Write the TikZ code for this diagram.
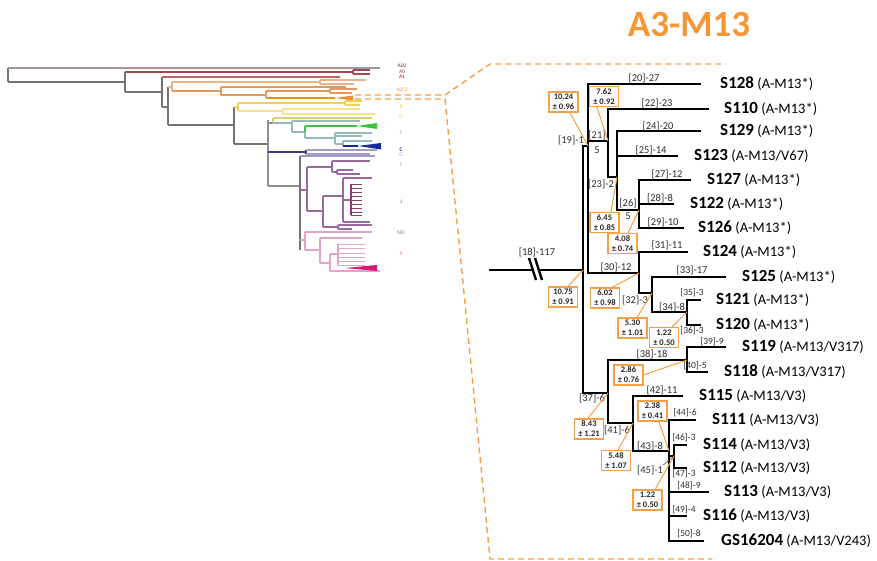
\documentclass[tikz,border=0pt]{standalone}
\usepackage{fontspec}
\setmainfont{Carlito}
\usetikzlibrary{calc}
\definecolor{org}{RGB}{245,160,68}
\definecolor{ttl}{RGB}{247,150,52}
\definecolor{lbl}{RGB}{45,45,45}
\definecolor{tgray}{RGB}{115,115,115}
\definecolor{c00}{RGB}{165,150,150}
\definecolor{cA0}{RGB}{160,70,85}
\definecolor{cA1}{RGB}{195,95,95}
\definecolor{co1}{RGB}{232,180,140}
\definecolor{co2}{RGB}{232,150,90}
\definecolor{co3}{RGB}{240,140,50}
\definecolor{cy1}{RGB}{240,210,90}
\definecolor{cy2}{RGB}{245,228,140}
\definecolor{cyg}{RGB}{215,210,110}
\definecolor{ctl}{RGB}{150,185,185}
\definecolor{cgr}{RGB}{60,195,60}
\definecolor{cnv}{RGB}{20,45,150}
\definecolor{cnv2}{RGB}{60,60,130}
\definecolor{cpg}{RGB}{165,155,195}
\definecolor{cpu}{RGB}{155,105,155}
\definecolor{cmg}{RGB}{140,60,115}
\definecolor{cpk}{RGB}{222,165,200}
\definecolor{cmag}{RGB}{215,25,115}
\begin{document}
\begin{tikzpicture}[x=1pt,y=-1pt,
  br/.style={line width=2.9pt, line join=miter, line cap=rect},
  leaf/.style={anchor=west, inner sep=0pt, font=\fontsize{14.5}{16}\selectfont},
  blab/.style={inner sep=0pt, text=lbl, font=\fontsize{10.5}{12}\selectfont},
  slab/.style={inner sep=0pt, text=lbl, font=\fontsize{9.5}{10}\selectfont},
  ebox/.style={draw=org, line width=1.2pt, fill=white, minimum width=29pt, minimum height=20pt,
    inner sep=0pt, align=center, text=black!85, font=\bfseries\fontsize{8.5}{10}\selectfont},
  conn/.style={draw=org, line width=1pt},
  dsh/.style={draw=org, line width=1.4pt, dash pattern=on 6pt off 4pt},
  lt/.style={line width=1.1pt},
  tl/.style={inner sep=0pt, font=\fontsize{5.5}{6}\selectfont}]
\useasboundingbox (0,0) rectangle (877,561);

% ---------- title ----------
\node[font=\bfseries\fontsize{37}{40}\selectfont, text=ttl] (title) at (689,24) {A3-M13};

% ---------- dashed zoom outline ----------
\draw[dsh] (355,95) -- (445,95) -- (490,64) -- (726,64);
\draw[dsh] (355,99) -- (445,99) -- (490,559) -- (712,559);

% ---------- left overview tree ----------
\begin{scope}[lt]
\draw[tgray] (8,68) -- (8,82);
\draw[c00] (8,68) -- (380,68);
\draw[tgray] (8,82) -- (125,82) (125,72) -- (125,92) (125,92) -- (162,92);
\draw[cA0] (125,72) -- (353,72) (353,70) -- (353,74) (353,70) -- (370,70) (353,74) -- (370,74);
\draw[tgray] (162,77) -- (162,107) (162,107) -- (168,107) (168,87) -- (168,125) (168,125) -- (234,125);
\draw[cA1] (162,77) -- (340,77);
\draw[co1] (168,87) -- (172,87) (172,82) -- (172,91) (172,82) -- (320,82) (320,80) -- (320,84) (320,80) -- (366,80) (320,84) -- (354,84);
\draw[co2] (172,91) -- (221,91) (221,87) -- (221,95) (221,87) -- (346,87) (221,95) -- (266,95)
  (266,91) -- (266,98) (266,91) -- (330,91) (330,89) -- (330,93) (330,89) -- (357,89) (330,93) -- (352,93);
\draw[co3] (266,98) -- (335,98);
\fill[co3] (335,98) -- (353,95.5) -- (353,100.5) -- cycle;
\draw[tgray] (234,107) -- (234,144) (234,144) -- (268,144);
\draw[cy1] (234,107) -- (238,107) (238,103) -- (238,111) (238,103) -- (345,103) (345,101) -- (345,105) (345,101) -- (362,101) (345,105) -- (360,105);
\draw[cy2] (238,111) -- (283,111) (283,109) -- (283,114) (283,109) -- (360,109) (283,114) -- (375,114);
\draw[tgray!80] (268,120) -- (268,186) (268,186) -- (300,186) (268,123) -- (273,123);
\draw[cyg] (273,118) -- (273,123) (273,118) -- (372,118);
\draw[ctl] (273,123) -- (292,123) (292,121) -- (292,132) (292,121) -- (360,121) (292,132) -- (305,132)
  (305,132) -- (305,138) (305,138) -- (335,138) (335,133) -- (335,144) (335,133) -- (372,133) (335,136) -- (362,136)
  (335,144) -- (343,144) (343,141) -- (343,146) (343,141) -- (372,141);
\draw[cgr] (305,126) -- (305,132) (305,126) -- (357,126);
\fill[cgr] (357,126) -- (377,123) -- (377,129) -- cycle;
\draw[cnv] (343,146) -- (358,146);
\fill[cnv] (358,146) -- (381,143) -- (381,149.5) -- cycle;
\draw[cnv2] (268,152) -- (306,152) (306,150) -- (306,154);
\draw[cpg] (306,150) -- (377,150) (306,154) -- (370,154);
\draw[tgray] (300,156) -- (300,250);
\draw[cpg] (300,156) -- (375,156);
\draw[cpu] (300,190) -- (307,190) (307,167) -- (307,211) (307,167) -- (332,167) (332,161) -- (332,172)
  (332,161) -- (370,161) (332,172) -- (337,172) (337,170) -- (337,174) (337,170) -- (353,170) (337,174) -- (360,174)
  (307,211) -- (323,211) (323,196) -- (323,227) (323,196) -- (343,196) (343,178) -- (343,222)
  (343,178) -- (372,178) (343,222) -- (370,222) (343,200) -- (351,200) (323,227) -- (338,227)
  (338,225) -- (338,229) (338,225) -- (372,225) (338,229) -- (352,229);
\draw[cmg] (351,184) -- (351,215);
\foreach \yy in {184,188,192,196,200,204,208,212,215} \draw[cmg, line width=0.8pt] (351,\yy) -- (362,\yy);
\draw[cpk] (300,240) -- (305,240) (305,232) -- (305,250) (305,232) -- (372,232) (305,250) -- (320,250)
  (320,238) -- (320,263) (320,238) -- (362,238) (320,263) -- (330,263) (330,254) -- (330,271)
  (330,254) -- (338,254) (338,244) -- (338,265) (330,271) -- (380,271);
\foreach \yy in {244,248,253,257,261,265} \draw[cpk, line width=0.8pt] (338,\yy) -- (365,\yy);
\fill[cmag] (345,268) -- (377,265) -- (377,271) -- cycle;
\end{scope}
\node[tl, text=cnv2!70!red] (tA00) at (402,66) {A00};
\node[tl, text=cA0] (tA0) at (402,72) {A0};
\node[tl, text=red!75!black] (tA1) at (402,77) {A1};
\node[tl, text=co3] (tA23) at (402,90) {A2'3};
\node[tl, text=cy1!90!orange] (tB) at (401,107) {B};
\node[tl, text=cyg] (tD) at (401,117) {D};
\node[tl, text=ctl] (tE) at (401,133) {E};
\node[tl, text=cnv] (tC) at (401,150) {\bfseries C};
\node[tl, text=cpg] (tG) at (401,155) {G};
\node[tl, text=cpu] (tI) at (401,165) {I};
\node[tl, text=cmg] (tJ) at (401,202) {J};
\node[tl, text=cpu] (tNO) at (401,233) {NO};
\node[tl, text=cpk!80!magenta] (tR) at (401,254) {R};

% ---------- main tree coordinates ----------
\coordinate (r0) at (490,270);
\coordinate (n18) at (583,270);
\coordinate (n19) at (588,146);
\coordinate (l20) at (700,84);
\coordinate (n21) at (608,141);
\coordinate (l22) at (708,109);
\coordinate (n23) at (617,177);
\coordinate (l24) at (700,131);
\coordinate (l25) at (677,156);
\coordinate (n26) at (639,210);
\coordinate (l27) at (690,180);
\coordinate (l28) at (673,204);
\coordinate (l29) at (683,228);
\coordinate (n30) at (639,273);
\coordinate (l31) at (687,252);
\coordinate (n32) at (652,293);
\coordinate (l33) at (725,277);
\coordinate (n34) at (687,312);
\coordinate (l35) at (700,300);
\coordinate (l36) at (700,325);
\coordinate (n37) at (608,393);
\coordinate (n38) at (687,360);
\coordinate (l39) at (725,347);
\coordinate (l40) at (707,372);
\coordinate (n41) at (633,423);
\coordinate (l42) at (682,396);
\coordinate (n43) at (669,451);
\coordinate (l44) at (695,420);
\coordinate (n45) at (674,456);
\coordinate (l46) at (686,445);
\coordinate (l47) at (686,468);
\coordinate (l48) at (708,492);
\coordinate (l49) at (686,516);
\coordinate (l50) at (703,541);

\draw[br] (r0) -- (n18);
\foreach \p/\c in {n18/n19, n18/n37, n19/l20, n19/n21, n19/n30, n21/l22, n21/n23, n23/l24, n23/l25, n23/n26,
  n26/l27, n26/l28, n26/l29, n30/l31, n30/n32, n32/l33, n32/n34, n34/l35, n34/l36, n37/n38, n37/n41,
  n38/l39, n38/l40, n41/l42, n41/n43, n43/l44, n43/n45, n43/l48, n43/l49, n43/l50, n45/l46, n45/l47}
  \draw[br] (\p) |- (\c);

% break mark
\fill[white] (529,258) -- (535,258) -- (542,280) -- (536,280) -- cycle;
\draw[line width=2.4pt] (529,258) -- (536,280) (535,258) -- (542,280);

% ---------- leaf labels ----------
\newcommand{\lf}[2]{{\fontsize{17}{18}\selectfont\bfseries #1} (#2)}
\node[leaf] (S128) at (720,84) {\lf{S128}{A-M13*}};
\node[leaf] (S110) at (724,109) {\lf{S110}{A-M13*}};
\node[leaf] (S129) at (720,131) {\lf{S129}{A-M13*}};
\node[leaf] (S123) at (694,156) {\lf{S123}{A-M13/V67}};
\node[leaf] (S127) at (707,180) {\lf{S127}{A-M13*}};
\node[leaf] (S122) at (690,204) {\lf{S122}{A-M13*}};
\node[leaf] (S126) at (698,228) {\lf{S126}{A-M13*}};
\node[leaf] (S124) at (703,252) {\lf{S124}{A-M13*}};
\node[leaf] (S125) at (742,277) {\lf{S125}{A-M13*}};
\node[leaf] (S121) at (716,300) {\lf{S121}{A-M13*}};
\node[leaf] (S120) at (716,325) {\lf{S120}{A-M13*}};
\node[leaf] (S119) at (742,347) {\lf{S119}{A-M13/V317}};
\node[leaf] (S118) at (724,372) {\lf{S118}{A-M13/V317}};
\node[leaf] (S115) at (699,396) {\lf{S115}{A-M13/V3}};
\node[leaf] (S111) at (712,420) {\lf{S111}{A-M13/V3}};
\node[leaf] (S114) at (703,445) {\lf{S114}{A-M13/V3}};
\node[leaf] (S112) at (703,468) {\lf{S112}{A-M13/V3}};
\node[leaf] (S113) at (724,492) {\lf{S113}{A-M13/V3}};
\node[leaf] (S116) at (703,516) {\lf{S116}{A-M13/V3}};
\node[leaf] (GS) at (721,541) {\lf{GS16204}{A-M13/V243}};

% ---------- branch labels ----------
\node[blab] (t18) at (537,252) {[18]-117};
\node[blab] (t19) at (571,140) {[19]-1};
\node[blab] (t20) at (644,78) {[20]-27};
\node[blab] (t21) at (597,135) {[21]};
\node[blab] (t21b) at (597,150) {5};
\node[blab] (t22) at (657,103) {[22]-23};
\node[blab] (t23) at (601,184) {[23]-2};
\node[blab] (t24) at (658,126) {[24]-20};
\node[blab] (t25) at (651,150) {[25]-14};
\node[blab] (t26) at (628,203) {[26]};
\node[blab] (t26b) at (628,216) {5};
\node[blab] (t27) at (667,174) {[27]-12};
\node[blab] (t28) at (660,198) {[28]-8};
\node[blab] (t29) at (663,222) {[29]-10};
\node[blab] (t30) at (616,267) {[30]-12};
\node[blab] (t31) at (667,245) {[31]-11};
\node[blab] (t32) at (635,300) {[32]-3};
\node[blab] (t33) at (692,270) {[33]-17};
\node[blab] (t34) at (672,307) {[34]-8};
\node[slab] (t35) at (692,293) {[35]-3};
\node[slab] (t36) at (692,331) {[36]-3};
\node[blab] (t37) at (592,398) {[37]-6};
\node[blab] (t38) at (652,354) {[38]-18};
\node[slab] (t39) at (712,342) {[39]-9};
\node[slab] (t40) at (695,366) {[40]-5};
\node[blab] (t41) at (617,430) {[41]-6};
\node[blab] (t42) at (662,390) {[42]-11};
\node[blab] (t43) at (650,446) {[43]-8};
\node[slab] (t44) at (685,413) {[44]-6};
\node[blab] (t45) at (650,470) {[45]-1};
\node[slab] (t46) at (684,438) {[46]-3};
\node[slab] (t47) at (684,474) {[47]-3};
\node[slab] (t48) at (689,486) {[48]-9};
\node[slab] (t49) at (684,510) {[49]-4};
\node[slab] (t50) at (689,534) {[50]-8};
\draw[lbl, line width=0.5pt] (t45.north east) -- (n45);

% ---------- estimate boxes ----------
\node[ebox] (b1) at (563.5,102) {10.24\\± 0.96};
\node[ebox] (b2) at (604,96.5) {7.62\\± 0.92};
\node[ebox] (b3) at (604.5,222.5) {6.45\\± 0.85};
\node[ebox] (b4) at (622.5,243.5) {4.08\\± 0.74};
\node[ebox] (b5) at (563,297) {10.75\\± 0.91};
\node[ebox] (b6) at (605,298) {6.02\\± 0.98};
\node[ebox] (b7) at (632.5,328) {5.30\\± 1.01};
\node[ebox] (b8) at (664,337.5) {1.22\\± 0.50};
\node[ebox] (b9) at (628.5,375) {2.86\\± 0.76};
\node[ebox] (b10) at (589,429) {8.43\\± 1.21};
\node[ebox] (b11) at (616,460.5) {5.48\\± 1.07};
\node[ebox] (b12) at (652.5,411) {2.38\\± 0.41};
\node[ebox] (b13) at (647.5,500) {1.22\\± 0.50};

\draw[conn] ($(b1.south)+(6.5,0)$) -- (n19);
\draw[conn] ($(b2.south)+(-7,0)$) -- (n21);
\draw[conn] ($(b3.north)+(6.5,0)$) -- (n23);
\draw[conn] ($(b4.north)+(5.5,0)$) -- (n26);
\draw[conn] ($(b5.north)+(5,0)$) -- (n18);
\draw[conn] ($(b6.north)+(7,0)$) -- (n30);
\draw[conn] ($(b7.north)+(4.5,0)$) -- (n32);
\draw[conn] ($(b8.north)+(8,0)$) -- (n34);
\draw[conn] (b9.east) -- (n38);
\draw[conn] ($(b10.north)+(-1,0)$) -- (n37);
\draw[conn] ($(b11.north)+(2,0)$) -- (n41);
\draw[conn] ($(b12.south)+(6.5,0)$) -- (n43);
\draw[conn] ($(b13.north)+(7.5,0)$) -- (n45);
\end{tikzpicture}
\end{document}
